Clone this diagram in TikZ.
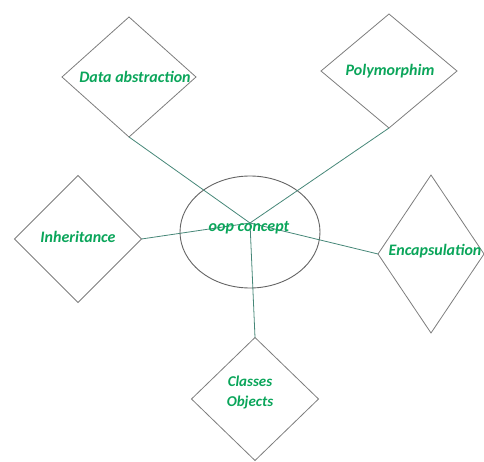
\documentclass[tikz,border=0pt]{standalone}
\usepackage{fontspec}
\setmainfont{Carlito}
\usetikzlibrary{shapes.geometric}
\definecolor{txtgreen}{RGB}{10,165,90}
\definecolor{conncol}{RGB}{70,135,120}
\definecolor{bordergray}{RGB}{125,125,125}
\tikzset{
  dia/.style={draw=bordergray, line width=0.8pt, shape=diamond, inner sep=0pt, outer sep=0pt},
  ell/.style={draw=bordergray!80!black, line width=0.9pt, shape=ellipse, inner sep=0pt, outer sep=0pt},
  lbl/.style={text=txtgreen, font=\bfseries\itshape\fontsize{16}{17}\selectfont, inner sep=0pt, align=center},
  conn/.style={draw=conncol, line width=0.8pt}
}
\begin{document}
\begin{tikzpicture}[x=1pt,y=-1pt]
\useasboundingbox (0,0) rectangle (484,462);
% shapes
\node[ell, minimum width=140pt, minimum height=112pt] (oop) at (250,232) {};
\node[dia, minimum width=134pt, minimum height=120pt] (da) at (129,77) {};
\node[dia, minimum width=136pt, minimum height=114pt] (pm) at (389,71) {};
\node[dia, minimum width=127pt, minimum height=127pt] (inh) at (78,239) {};
\node[dia, minimum width=106pt, minimum height=158pt] (enc) at (431,254) {};
\node[dia, minimum width=127pt, minimum height=123pt] (cls) at (255,399) {};
\coordinate (hub) at (250,223);
% connectors
\draw[conn] (da.south) -- (hub);
\draw[conn] (pm.south) -- (hub);
\draw[conn] (inh.east) -- (hub);
\draw[conn] (enc.west) -- (hub);
\draw[conn] (hub) -- (cls.north);
% labels
\node[lbl] (oopt) at (249,228) {oop concept};
\node[lbl] (dat) at (135,77) {Data abstraction};
\node[lbl] (pmt) at (390,71) {Polymorphim};
\node[lbl] (inht) at (78,237) {Inheritance};
\node[lbl] (enct) at (435,251) {Encapsulation};
\node[lbl, font=\bfseries\itshape\fontsize{15}{20}\selectfont] (clst) at (250,393) {Classes\\Objects};
\end{tikzpicture}
\end{document}
